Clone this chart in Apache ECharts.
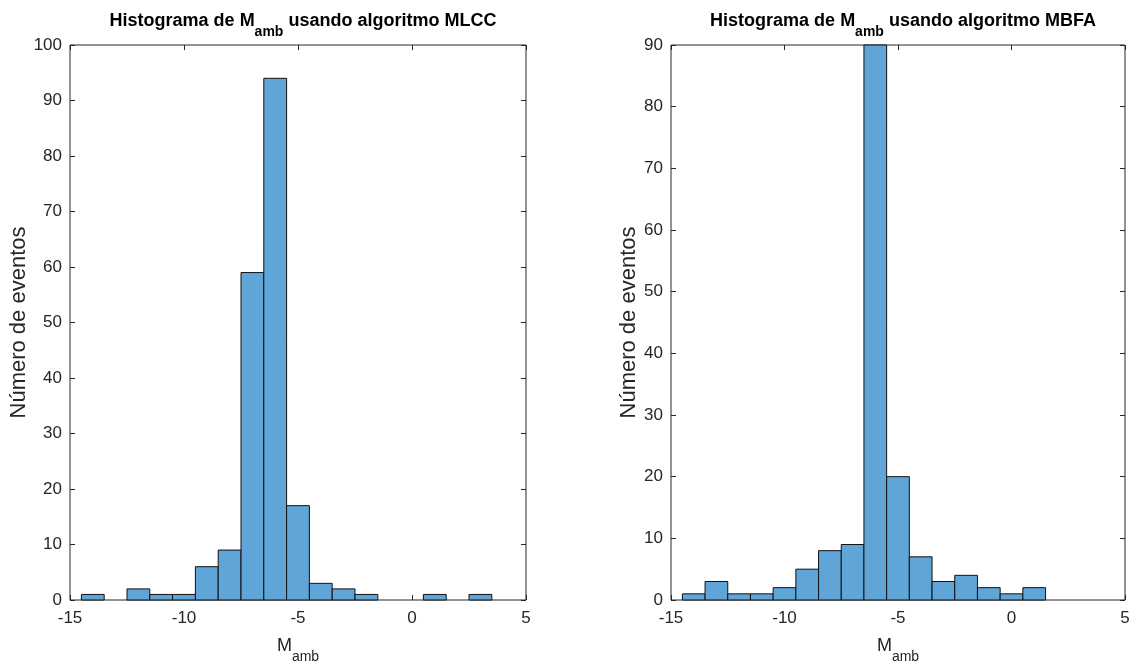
<!DOCTYPE html>
<html>
<head>
<meta charset="utf-8">
<script src="https://cdn.jsdelivr.net/npm/echarts@6/dist/echarts.min.js"></script>
<style>html,body{margin:0;padding:0;background:#fff}#c{width:1140px;height:667px}</style>
</head>
<body>
<div id="c"></div>
<script>
// Bin centres (bin width 1)
const binCentersMLCC = [-14,-13,-12,-11,-10,-9,-8,-7,-6,-5,-4,-3,-2,-1,0,1,2,3];
const countsMLCC     = [  1,  0,  2,  1,  1,  6,  9, 59, 94, 17,  3,  2,  1,  0,0,1,0,1];
const binCentersMBFA = [-14,-13,-12,-11,-10,-9,-8,-7,-6,-5,-4,-3,-2,-1,0,1,2];
const countsMBFA     = [  1,  3,  1,  1,  2,  5,  8,  9,129, 20,  7,  3,  4,  2,1,2,0];
const BIN_WIDTH = 1;
const xTicks = [-15,-10,-5,0,5];
const titleLeft = 'Histograma de M|amb| usando algoritmo MLCC';
const titleRight = 'Histograma de M|amb| usando algoritmo MBFA';
const yLabel = 'Número de eventos';

const chart = echarts.init(document.getElementById('c'), null, {renderer:'canvas'});
const TXT = '#262626';
const FILL = '#5FA5D7';
const FONT = 'Liberation Sans, Arial';

function renderItem(params, api){
  const c = api.value(0), v = api.value(1);
  if (!v) return null;
  const p0 = api.coord([c - BIN_WIDTH/2, v]);
  const p1 = api.coord([c + BIN_WIDTH/2, 0]);
  const cs = params.coordSys;
  const r = echarts.graphic.clipRectByRect(
    {x:p0[0], y:p0[1], width:p1[0]-p0[0], height:p1[1]-p0[1]},
    {x:cs.x, y:cs.y, width:cs.width, height:cs.height});
  if (!r) return null;
  return {type:'rect', shape:r, style:{fill:FILL, stroke:'#111', lineWidth:1}};
}

function richTitle(t){
  const p = t.split('|');
  return '{t|'+p[0]+'}{s|'+p[1]+'}{t|'+p[2]+'}';
}
// main text sits at the top of a tall line, the subscript at its bottom
const titleRich = {
  t:{fontSize:18, fontWeight:'bold', color:'#000', fontFamily:FONT, verticalAlign:'top', lineHeight:27},
  s:{fontSize:14, fontWeight:'bold', color:'#000', fontFamily:FONT, verticalAlign:'bottom', lineHeight:15}
};
const nameRich = {
  t:{fontSize:18, color:TXT, fontFamily:FONT, verticalAlign:'top', lineHeight:27},
  s:{fontSize:14, color:TXT, fontFamily:FONT, verticalAlign:'bottom', lineHeight:15}
};

const grids = [
  {left:70, top:45, width:456, height:555},
  {left:671, top:45, width:454, height:555}
];
const yMax = [100, 90];
const yGap = [39, 30];

const xAxes = [], yAxes = [];
grids.forEach((g,i)=>{
  const baseX = {gridIndex:i, type:'value', min:xTicks[0], max:xTicks[xTicks.length-1], interval:5,
    splitLine:{show:false}, axisLine:{show:false, onZero:false},
    axisTick:{inside:true, length:5, lineStyle:{color:TXT}}};
  xAxes.push(Object.assign({}, baseX, {position:'bottom',
    axisLabel:{color:TXT, fontSize:17, fontFamily:FONT, margin:10},
    name:'{t|M}{s|amb}', nameLocation:'middle', nameGap:37, nameTextStyle:{rich:nameRich}}));
  xAxes.push(Object.assign({}, baseX, {position:'top', axisLabel:{show:false}}));
  const baseY = {gridIndex:i, type:'value', min:0, max:yMax[i], interval:10,
    splitLine:{show:false}, axisLine:{show:false, onZero:false},
    axisTick:{inside:true, length:5, lineStyle:{color:TXT}}};
  yAxes.push(Object.assign({}, baseY, {position:'left',
    axisLabel:{color:TXT, fontSize:17, fontFamily:FONT, margin:8},
    name:yLabel, nameLocation:'middle', nameRotate:90, nameGap:yGap[i],
    nameTextStyle:{color:TXT, fontSize:22, fontFamily:FONT}}));
  yAxes.push(Object.assign({}, baseY, {position:'right', axisLabel:{show:false}}));
});

chart.setOption({
  animation:false,
  backgroundColor:'#fff',
  title:[
    {text:richTitle(titleLeft), left:298, top:7, textAlign:'center', textStyle:{rich:titleRich}},
    {text:richTitle(titleRight), left:898, top:7, textAlign:'center', textStyle:{rich:titleRich}}
  ],
  grid: grids.map(g=>Object.assign({show:true, outerBoundsMode:'none', containLabel:false,
    borderColor:TXT, borderWidth:1, backgroundColor:'transparent'}, g)),
  xAxis: xAxes,
  yAxis: yAxes,
  series:[
    {type:'custom', xAxisIndex:0, yAxisIndex:0, renderItem:renderItem, encode:{x:0,y:1},
      data: binCentersMLCC.map((c,k)=>[c, countsMLCC[k]])},
    {type:'custom', xAxisIndex:2, yAxisIndex:2, renderItem:renderItem, encode:{x:0,y:1},
      data: binCentersMBFA.map((c,k)=>[c, countsMBFA[k]])}
  ]
});
</script>
</body>
</html>
